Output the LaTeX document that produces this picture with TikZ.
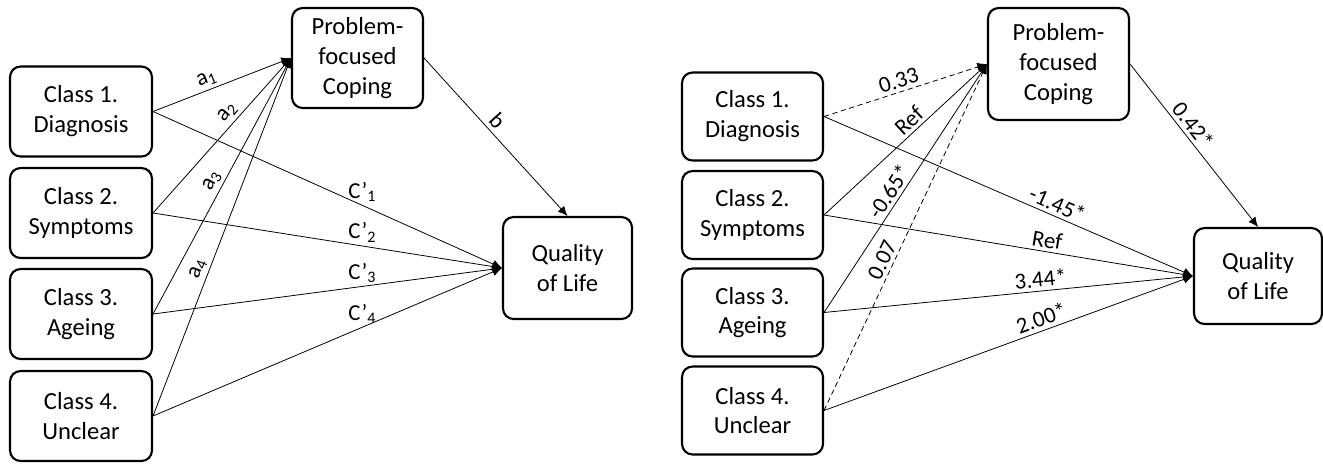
\documentclass[tikz,border=0pt]{standalone}
\usepackage{fontspec}
\setmainfont{Carlito}
\usetikzlibrary{arrows.meta}

\begin{document}
\begin{tikzpicture}[x=0.02cm, y=-0.02cm,
    box/.style={draw, line width=1.2pt, rounded corners=6pt, align=center,
        inner sep=0pt, font=\fontsize{14}{17}\selectfont},
    cls/.style={box, minimum width=2.84cm, minimum height=1.8cm},
    link/.style={-{Latex[length=5.5pt,width=5pt]}, line width=0.45pt},
    lbl/.style={font=\fontsize{13}{15}\selectfont, inner sep=2pt}]
\useasboundingbox (0,0) rectangle (1323,464);

% --- 左図: ノード ---
\foreach \i/\t/\y in {1/Diagnosis/111.5, 2/Symptoms/213, 3/Ageing/314, 4/Unclear/416} {
    \node[cls] (L\i) at (81,\y) {Class \i.\\\t};
}
\node[box, minimum width=2.62cm, minimum height=2cm] (Lpfc) at (357.5,58) {Problem-\\focused\\Coping};
\node[box, minimum width=2.58cm, minimum height=2.04cm] (Lqol) at (567.5,268) {Quality\\of Life};

    % --- 左図: 矢印 ---
    \foreach \i/\p in {1/0.42, 2/0.6, 3/0.5, 4/0.4} {
        \draw[link] (L\i.east) -- node[lbl, sloped, above, pos=\p] {a\textsubscript{\i}} (Lpfc.west);
    }
    \foreach \i in {1,...,4} {
        \draw[link] (L\i.east) -- node[lbl, above, pos=0.6] {C’\textsubscript{\i}} (Lqol.west);
    }
    \draw[link] (Lpfc.east) -- node[lbl, sloped, above, pos=0.45] {b} (Lqol.north);

% --- 右図: ノード ---
\foreach \i/\t/\y in {1/Diagnosis/116.5, 2/Symptoms/215, 3/Ageing/312.5, 4/Unclear/410.5} {
    \node[cls, minimum width=2.82cm, minimum height=1.76cm] (R\i) at (752.5,\y) {Class \i.\\\t};
}
\node[box, minimum width=2.82cm, minimum height=2.24cm] (Rpfc) at (1058.5,64) {Problem-\\focused\\Coping};
\node[box, minimum width=2.56cm, minimum height=1.92cm] (Rqol) at (1258,276) {Quality\\of Life};

    % --- 右図: 矢印 ---
    \foreach \i/\v/\p/\s in {1/0.33/0.48/densely dashed, 2/Ref/0.57/solid, 3/-0.65*/0.46/solid, 4/0.07/0.42/densely dashed} {
        \draw[link, \s] (R\i.east) -- node[lbl, sloped, above, pos=\p] {\v} (Rpfc.west);
    }
    \foreach \i/\v/\p in {1/-1.45*/0.62, 2/Ref/0.6, 3/3.44*/0.59, 4/2.00*/0.6} {
        \draw[link] (R\i.east) -- node[lbl, sloped, above, pos=\p] {\v} (Rqol.west);
    }
    \draw[link] (Rpfc.east) -- node[lbl, sloped, above, pos=0.42] {0.42*} (Rqol.north);

\end{tikzpicture}
\end{document}
